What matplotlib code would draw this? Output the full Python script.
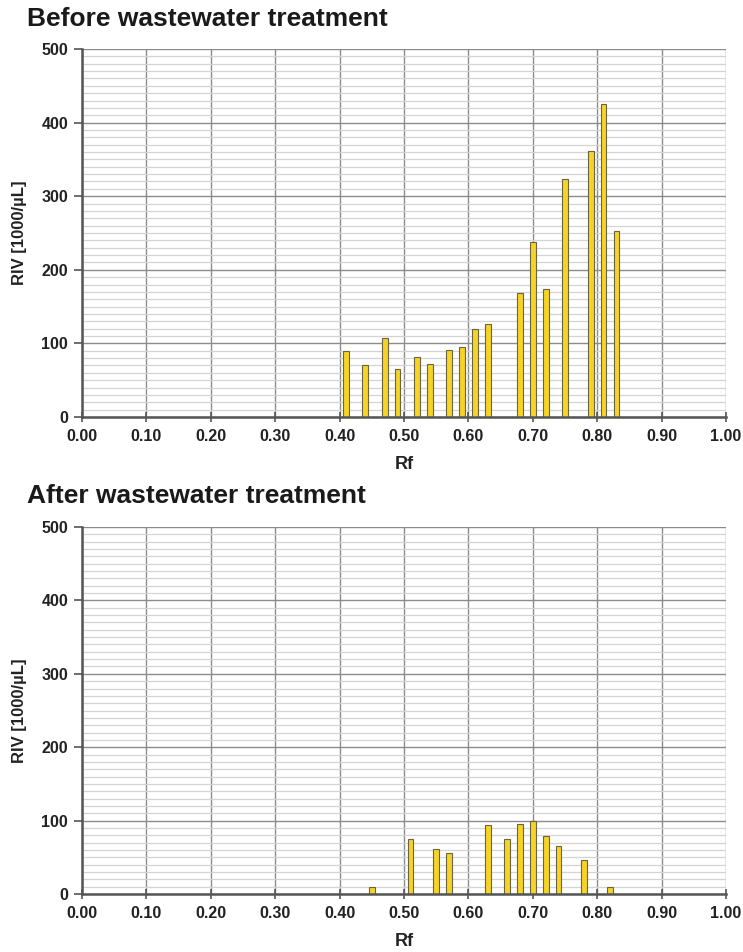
import matplotlib
matplotlib.use("Agg")
import matplotlib.pyplot as plt
from matplotlib.ticker import MultipleLocator, FormatStrFormatter

plt.rcParams['font.family'] = ['Liberation Sans', 'DejaVu Sans']

# Densitometric peaks: Rf position and relative intensity (RIV, 1000/µL)
before_rf = [0.41, 0.44, 0.47, 0.49, 0.52, 0.54, 0.57, 0.59, 0.61, 0.63,
             0.68, 0.70, 0.72, 0.75, 0.79, 0.81, 0.83]
before_riv = [90, 70, 107, 65, 82, 72, 91, 95, 120, 126,
              169, 238, 174, 324, 361, 425, 253]

after_rf = [0.45, 0.51, 0.55, 0.57, 0.63, 0.66, 0.68, 0.70, 0.72, 0.74, 0.78, 0.82]
after_riv = [10, 75, 61, 56, 94, 75, 95, 99, 79, 65, 46, 9]

titles = ["Before wastewater treatment", "After wastewater treatment"]
y_label = "RIV [1000/\u00b5L]"
x_label = "Rf"

fig = plt.figure(figsize=(7.43, 9.52), dpi=100)
ax_top = fig.add_axes([0.1104, 0.562, 0.8666, 0.3865])
ax_bot = fig.add_axes([0.1104, 0.0609, 0.8666, 0.3855])

bar_color = "#F5D327"
edge_color = "#6b6440"

for ax, rf, riv, title, ty in [(ax_top, before_rf, before_riv, titles[0], 0.9800),
                                (ax_bot, after_rf, after_riv, titles[1], 0.4795)]:
    ax.bar(rf, riv, width=0.009, color=bar_color, edgecolor=edge_color,
           linewidth=0.8, zorder=3)
    ax.set_xlim(0, 1.0)
    ax.set_ylim(0, 500)
    ax.xaxis.set_major_locator(MultipleLocator(0.1))
    ax.xaxis.set_major_formatter(FormatStrFormatter('%.2f'))
    ax.yaxis.set_major_locator(MultipleLocator(100))
    ax.yaxis.set_minor_locator(MultipleLocator(10))
    ax.grid(which='major', color='#8c8c8c', linewidth=1.0, zorder=0)
    ax.grid(which='minor', axis='y', color='#d4d4d4', linewidth=0.9, zorder=0)
    ax.set_axisbelow(True)
    for s in ['top', 'right']:
        ax.spines[s].set_visible(False)
    for s in ['left', 'bottom']:
        ax.spines[s].set_color('#555555')
        ax.spines[s].set_linewidth(1.8)
        ax.spines[s].set_zorder(4)
    ax.tick_params(axis='x', which='major', direction='inout', length=7,
                   width=1.2, color='#555555', pad=5)
    ax.tick_params(axis='y', which='major', direction='out', length=6,
                   width=1.2, color='#555555', pad=4)
    ax.tick_params(axis='y', which='minor', length=0)
    for lab in ax.get_xticklabels() + ax.get_yticklabels():
        lab.set_fontsize(11.5)
        lab.set_fontweight('bold')
        lab.set_color('#222222')
    ax.set_ylabel(y_label, fontsize=12, fontweight='bold', color='#222222',
                  labelpad=10)
    ax.set_xlabel(x_label, fontsize=13, fontweight='bold', color='#222222',
                  labelpad=9)
    fig.text(0.037, ty, title, fontsize=19, fontweight='bold', color='#1a1a1a',
             ha='left', va='center')

fig.savefig("out.png", dpi=100)
